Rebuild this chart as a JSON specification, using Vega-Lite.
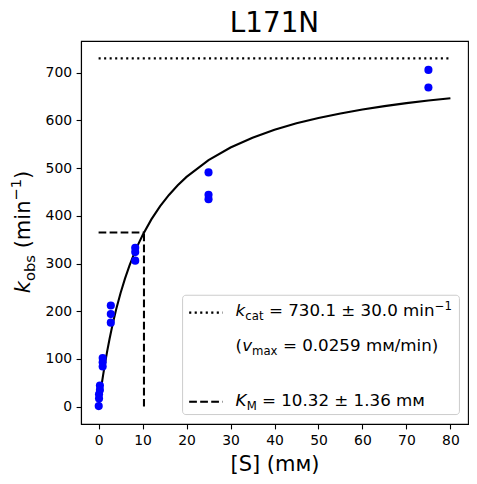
{
  "$schema": "https://vega.github.io/schema/vega-lite/v6.json",
  "width": 387,
  "height": 383,
  "autosize": {"type": "none"},
  "padding": {"left": 81, "top": 41, "right": 9, "bottom": 60},
  "background": "white",
  "title": {
    "text": "L171N",
    "font": "DejaVu Sans",
    "fontSize": 27.8,
    "fontWeight": "normal",
    "color": "black",
    "anchor": "middle",
    "frame": "group",
    "offset": 3
  },
  "config": {
    "view": {"stroke": "black", "strokeWidth": 1.1},
    "axis": {
      "grid": false,
      "domainColor": "black",
      "domainWidth": 1.1,
      "tickColor": "black",
      "tickWidth": 1.1,
      "tickSize": 4.9,
      "labelFont": "DejaVu Sans",
      "labelFontSize": 13.9,
      "labelColor": "black",
      "labelPadding": 4.5,
      "labelFlush": false,
      "labelOverlap": false,
      "titleFont": "DejaVu Sans",
      "titleFontSize": 21,
      "titleFontWeight": "normal",
      "titleColor": "black"
    }
  },
  "datasets": {
    "obs": [
      {"S": 0.03, "v": 1},
      {"S": 0.1, "v": 17},
      {"S": 0.1, "v": 26},
      {"S": 0.3, "v": 35},
      {"S": 0.3, "v": 44},
      {"S": 0.926, "v": 84},
      {"S": 0.926, "v": 93},
      {"S": 0.926, "v": 102},
      {"S": 2.78, "v": 176},
      {"S": 2.78, "v": 194},
      {"S": 2.78, "v": 212},
      {"S": 8.33, "v": 306},
      {"S": 8.33, "v": 324},
      {"S": 8.33, "v": 333},
      {"S": 25, "v": 435},
      {"S": 25, "v": 444},
      {"S": 25, "v": 491},
      {"S": 75, "v": 669},
      {"S": 75, "v": 706}
    ],
    "fit": [
      {"S": 0, "v": 0},
      {"S": 0.25, "v": 17.27},
      {"S": 0.5, "v": 33.74},
      {"S": 0.75, "v": 49.46},
      {"S": 1, "v": 64.5},
      {"S": 1.5, "v": 92.65},
      {"S": 2, "v": 118.52},
      {"S": 2.5, "v": 142.38},
      {"S": 3, "v": 164.44},
      {"S": 3.5, "v": 184.9},
      {"S": 4, "v": 203.94},
      {"S": 5, "v": 238.28},
      {"S": 6, "v": 268.42},
      {"S": 7, "v": 295.07},
      {"S": 8, "v": 318.82},
      {"S": 9, "v": 340.11},
      {"S": 10, "v": 359.3},
      {"S": 12, "v": 392.53},
      {"S": 14, "v": 420.29},
      {"S": 16, "v": 443.83},
      {"S": 18, "v": 464.05},
      {"S": 20, "v": 481.6},
      {"S": 25, "v": 516.78},
      {"S": 30, "v": 543.23},
      {"S": 35, "v": 563.84},
      {"S": 40, "v": 580.37},
      {"S": 45, "v": 593.9},
      {"S": 50, "v": 605.19},
      {"S": 55, "v": 614.75},
      {"S": 60, "v": 622.95},
      {"S": 65, "v": 630.06},
      {"S": 70, "v": 636.29},
      {"S": 75, "v": 641.79},
      {"S": 80, "v": 646.68}
    ],
    "ref": [
      {"line": "kcat", "S": 0, "v": 730.1},
      {"line": "kcat", "S": 80, "v": 730.1},
      {"line": "kcat_key", "S": 20.6, "v": 197},
      {"line": "kcat_key", "S": 28.2, "v": 197},
      {"line": "km_h", "S": 0, "v": 365.05},
      {"line": "km_h", "S": 10.32, "v": 365.05},
      {"line": "km_v", "S": 10.32, "v": 0},
      {"line": "km_v", "S": 10.32, "v": 365.05},
      {"line": "km_key", "S": 20.6, "v": 10},
      {"line": "km_key", "S": 28.2, "v": 10}
    ],
    "box": [
      {"S": 19.1, "S2": 82.05, "v": -16.7, "v2": 233.5}
    ],
    "txt": [
      {"role": "it", "text": "k", "S": 31.16, "v": 189.7},
      {"role": "sub", "text": "cat", "S": 33.37, "v": 189.7},
      {"role": "main", "text": "= 730.1 ± 30.0 min", "S": 38.74, "v": 189.7},
      {"role": "sup", "text": "−1", "S": 76.43, "v": 189.7},
      {"role": "main", "text": "(", "S": 31.16, "v": 117.6},
      {"role": "it", "text": "v", "S": 32.64, "v": 117.6},
      {"role": "sub", "text": "max", "S": 34.9, "v": 117.6},
      {"role": "main", "text": "= 0.0259 mм/min)", "S": 41.91, "v": 117.6},
      {"role": "it", "text": "K", "S": 31.16, "v": 1.5},
      {"role": "sub", "text": "M", "S": 33.67, "v": 1.5},
      {"role": "main", "text": "= 10.32 ± 1.36 mм", "S": 37.15, "v": 1.5},
      {"role": "yit", "text": "k", "S": -15.7, "v": 237.9},
      {"role": "ysub", "text": "obs", "S": -15.7, "v": 263.4},
      {"role": "ymain", "text": "(min", "S": -15.7, "v": 331.8},
      {"role": "ysup", "text": "−1", "S": -15.7, "v": 431.8},
      {"role": "ymain", "text": ")", "S": -15.7, "v": 477.2}
    ]
  },
  "encoding": {
    "x": {
      "field": "S",
      "type": "quantitative",
      "scale": {"domain": [-4, 84], "nice": false, "zero": false},
      "axis": {"values": [0, 10, 20, 30, 40, 50, 60, 70, 80], "format": "d", "title": "[S] (mм)", "titlePadding": 6}
    },
    "y": {
      "field": "v",
      "type": "quantitative",
      "scale": {"domain": [-36.5, 766.6], "nice": false, "zero": false},
      "axis": {"values": [0, 100, 200, 300, 400, 500, 600, 700], "format": "d", "title": null}
    }
  },
  "layer": [
    {
      "data": {"name": "fit"},
      "mark": {"type": "line", "color": "black", "strokeWidth": 2.08},
      "encoding": {}
    },
    {
      "data": {"name": "ref"},
      "transform": [{"filter": "indexof(datum.line, 'kcat') === 0"}],
      "mark": {"type": "line", "color": "black", "strokeWidth": 2.08, "strokeDash": [2.08, 3.44]},
      "encoding": {"detail": {"field": "line"}}
    },
    {
      "data": {"name": "ref"},
      "transform": [{"filter": "indexof(datum.line, 'km') === 0"}],
      "mark": {"type": "line", "color": "black", "strokeWidth": 2.08, "strokeDash": [7.7, 3.33]},
      "encoding": {"detail": {"field": "line"}}
    },
    {
      "data": {"name": "obs"},
      "mark": {"type": "circle", "size": 66, "color": "#0000ff", "opacity": 1}
    },
    {
      "data": {"name": "box"},
      "mark": {"type": "rect", "fill": "white", "fillOpacity": 0.8, "stroke": "#cccccc", "strokeWidth": 1, "cornerRadius": 3.3},
      "encoding": {"x2": {"field": "S2"}, "y2": {"field": "v2"}}
    },
    {
      "data": {"name": "ref"},
      "transform": [{"filter": "datum.line === 'kcat_key'"}],
      "mark": {"type": "line", "color": "black", "strokeWidth": 2.08, "strokeDash": [2.08, 3.44]},
      "encoding": {}
    },
    {
      "data": {"name": "ref"},
      "transform": [{"filter": "datum.line === 'km_key'"}],
      "mark": {"type": "line", "color": "black", "strokeWidth": 2.08, "strokeDash": [7.7, 3.33]},
      "encoding": {}
    },
    {
      "data": {"name": "txt"},
      "transform": [{"filter": "datum.role === 'main'"}],
      "mark": {"type": "text", "font": "DejaVu Sans", "fontSize": 16.7, "color": "black", "align": "left", "baseline": "alphabetic"},
      "encoding": {"text": {"field": "text"}}
    },
    {
      "data": {"name": "txt"},
      "transform": [{"filter": "datum.role === 'it'"}],
      "mark": {"type": "text", "font": "DejaVu Sans", "fontSize": 16.7, "fontStyle": "italic", "color": "black", "align": "left", "baseline": "alphabetic"},
      "encoding": {"text": {"field": "text"}}
    },
    {
      "data": {"name": "txt"},
      "transform": [{"filter": "datum.role === 'sub'"}],
      "mark": {"type": "text", "font": "DejaVu Sans", "fontSize": 11.7, "color": "black", "align": "left", "baseline": "alphabetic", "dy": 4},
      "encoding": {"text": {"field": "text"}}
    },
    {
      "data": {"name": "txt"},
      "transform": [{"filter": "datum.role === 'sup'"}],
      "mark": {"type": "text", "font": "DejaVu Sans", "fontSize": 11.7, "color": "black", "align": "left", "baseline": "alphabetic", "dy": -6.5},
      "encoding": {"text": {"field": "text"}}
    },
    {
      "data": {"name": "txt"},
      "transform": [{"filter": "datum.role === 'ymain'"}],
      "mark": {"type": "text", "font": "DejaVu Sans", "fontSize": 21, "color": "black", "align": "left", "baseline": "alphabetic", "angle": 270},
      "encoding": {"text": {"field": "text"}}
    },
    {
      "data": {"name": "txt"},
      "transform": [{"filter": "datum.role === 'yit'"}],
      "mark": {"type": "text", "font": "DejaVu Sans", "fontSize": 21, "fontStyle": "italic", "color": "black", "align": "left", "baseline": "alphabetic", "angle": 270},
      "encoding": {"text": {"field": "text"}}
    },
    {
      "data": {"name": "txt"},
      "transform": [{"filter": "datum.role === 'ysub'"}],
      "mark": {"type": "text", "font": "DejaVu Sans", "fontSize": 14.7, "color": "black", "align": "left", "baseline": "alphabetic", "angle": 270, "dy": 5},
      "encoding": {"text": {"field": "text"}}
    },
    {
      "data": {"name": "txt"},
      "transform": [{"filter": "datum.role === 'ysup'"}],
      "mark": {"type": "text", "font": "DejaVu Sans", "fontSize": 14.7, "color": "black", "align": "left", "baseline": "alphabetic", "angle": 270, "dy": -8.5},
      "encoding": {"text": {"field": "text"}}
    }
  ]
}
